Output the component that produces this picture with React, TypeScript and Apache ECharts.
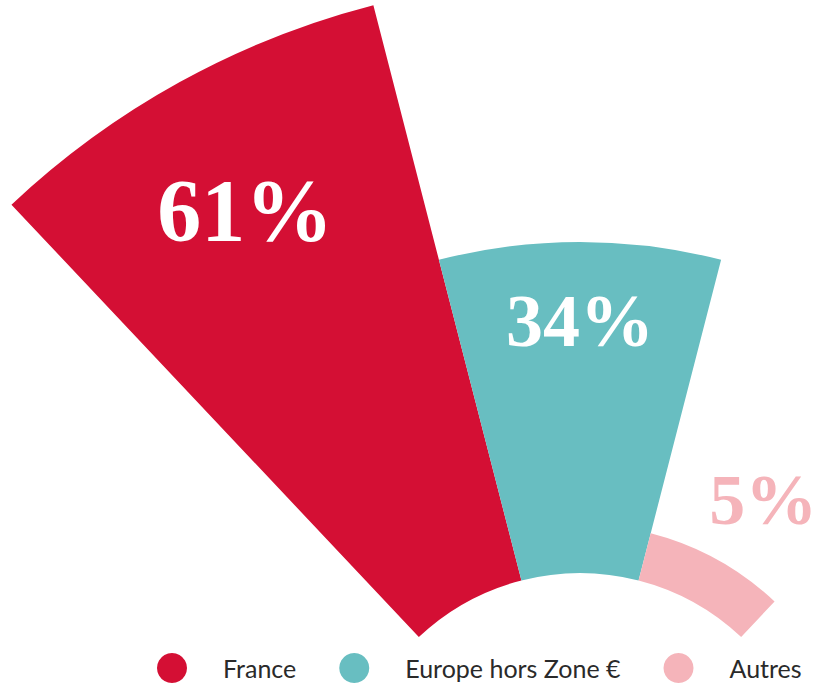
import React, { useEffect, useRef } from "react";
import * as echarts from "echarts";

const categories = ["France", "Europe hors Zone €", "Autres"];
const values = [61, 34, 5];
const colors = ["#D40F34", "#68BEC1", "#F5B4BA"];
const labelColors = ["#FFFFFF", "#FFFFFF", "#F5B4BA"];
const labelSizes = [88, 74, 72];
const labelOffsets = [
  [-78, -132],
  [0, -86],
  [58, -81],
];

export default function App() {
  const ref = useRef<HTMLDivElement>(null);
  useEffect(() => {
    if (!ref.current) return;
    const chart = echarts.init(ref.current, null, { renderer: "svg" });
    chart.setOption({
      animation: false,
      backgroundColor: "#FFFFFF",
      polar: {
        center: [580, 808],
        radius: [235, 829],
      },
      angleAxis: {
        type: "category",
        data: categories,
        startAngle: 133.3,
        endAngle: 46.7,
        clockwise: true,
        boundaryGap: true,
        axisLine: { show: false },
        axisTick: { show: false },
        axisLabel: { show: false },
        splitLine: { show: false },
      },
      radiusAxis: {
        type: "value",
        min: 0,
        max: 61,
        axisLine: { show: false },
        axisTick: { show: false },
        axisLabel: { show: false },
        splitLine: { show: false },
      },
      legend: {
        left: 157,
        top: 653,
        padding: 0,
        icon: "circle",
        itemWidth: 30,
        itemHeight: 30,
        itemGap: 43,
        selectedMode: false,
        data: categories,
        textStyle: {
          fontFamily: "Lato, 'Open Sans', sans-serif",
          fontSize: 25,
          color: "#2A2A2A",
          padding: [0, 0, 0, 31],
        },
      },
      series: categories.map((name, i) => ({
        type: "bar",
        name,
        coordinateSystem: "polar",
        silent: true,
        barGap: "-100%",
        barCategoryGap: "0%",
        itemStyle: { color: colors[i] },
        data: categories.map((_, j) => (j === i ? values[i] : "-")),
        label: {
          show: true,
          position: "middle",
          rotate: 0,
          formatter: `${values[i]}%`,
          color: labelColors[i],
          fontFamily: "'Liberation Serif', 'DejaVu Serif', serif",
          fontWeight: 900,
          fontSize: labelSizes[i],
          offset: labelOffsets[i],
        },
      })),
    });
    return () => chart.dispose();
  }, []);
  return (
    <div
      ref={ref}
      style={{ position: "fixed", left: 0, top: 0, width: 815, height: 683 }}
    />
  );
}
